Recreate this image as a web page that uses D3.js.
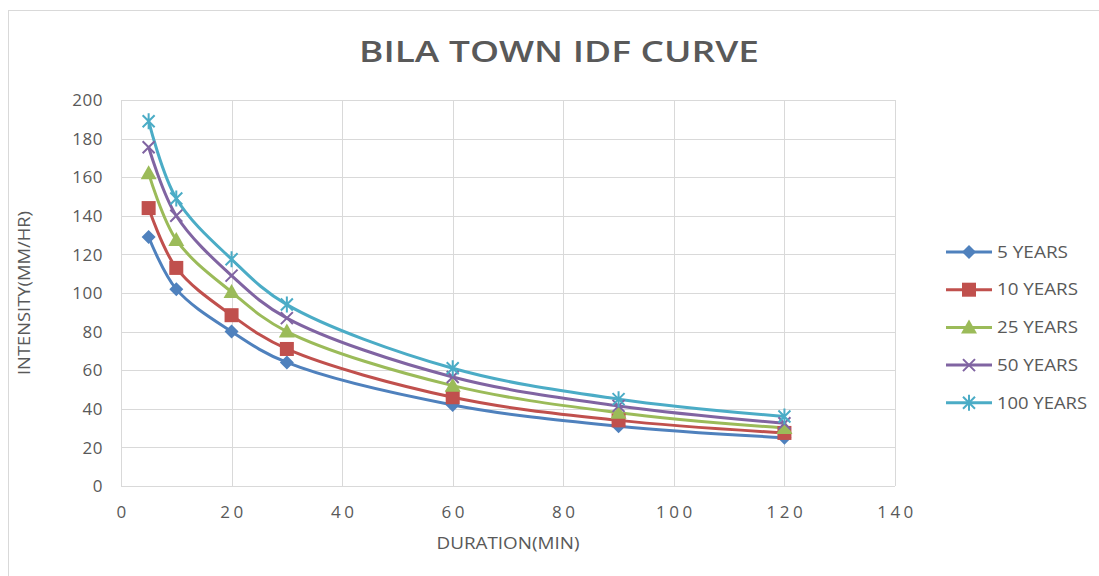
<!DOCTYPE html>
<html>
<head>
  <meta charset="UTF-8">
  <style>
    body { margin: 0; background: #fff; }
    svg { display: block; font-family: "Open Sans", "Liberation Sans", sans-serif; }
  </style>
</head>
<body>
<svg></svg>
<script src="https://d3js.org/d3.v7.min.js"></script>
<script>
let width = 1099, height = 576;
let svg = d3.select("svg").attr("width", width).attr("height", height);

// data
const durations = [5, 10, 20, 30, 60, 90, 120];
const seriesNames = ["5 YEARS", "10 YEARS", "25 YEARS", "50 YEARS", "100 YEARS"];
const years5 = [129, 102, 80, 64, 42, 31, 25];
const years10 = [144, 113, 88.5, 71, 46, 34, 27.5];
const years25 = [162, 127.5, 100.5, 80, 52, 38, 30];
const years50 = [175.5, 140, 109, 87, 56.5, 41.5, 32.5];
const years100 = [189, 149, 117.5, 94, 61, 45, 36];
const xTicks = [0, 20, 40, 60, 80, 100, 120, 140];
const yTicks = [0, 20, 40, 60, 80, 100, 120, 140, 160, 180, 200];

const allSeries = [years5, years10, years25, years50, years100];
const colors = ["#4F81BD", "#C0504D", "#9BBB59", "#8064A2", "#4BACC6"];
const markers = ["diamond", "square", "triangle", "x", "star"];

// chart frame
svg.append("rect").attr("x", 8.5).attr("y", 10.5).attr("width", 1100).attr("height", 580)
  .attr("fill", "#fff").attr("stroke", "#D9D9D9");

let x = d3.scaleLinear().domain([0, 140]).range([121, 895]);
let y = d3.scaleLinear().domain([0, 200]).range([486, 100]);

// gridlines
svg.append("g").selectAll("line").data(yTicks).enter().append("line")
  .attr("x1", x(0)).attr("x2", x(140))
  .attr("y1", d => Math.round(y(d)) + 0.5).attr("y2", d => Math.round(y(d)) + 0.5)
  .attr("stroke", "#D9D9D9");
svg.append("g").selectAll("line").data(xTicks).enter().append("line")
  .attr("y1", y(0)).attr("y2", y(200))
  .attr("x1", d => Math.round(x(d)) + 0.5).attr("x2", d => Math.round(x(d)) + 0.5)
  .attr("stroke", "#D9D9D9");

// tick labels
svg.append("g").selectAll("text").data(yTicks).enter().append("text")
  .attr("x", 103).attr("y", d => y(d)).attr("dy", "0.36em")
  .attr("text-anchor", "end").attr("fill", "#595959").style("font-size", "17px")
  .style("letter-spacing", "0.5px")
  .text(d => d);
svg.append("g").selectAll("text").data(xTicks).enter().append("text")
  .attr("x", d => x(d) + 2).attr("y", 518)
  .attr("text-anchor", "middle").attr("fill", "#595959").style("font-size", "17px")
  .style("letter-spacing", "3.5px")
  .text(d => d);

// titles
svg.append("text").attr("x", 559).attr("y", 62).attr("text-anchor", "middle")
  .attr("fill", "#595959").style("font-size", "29px").style("font-weight", "600")
  .attr("textLength", 400).attr("lengthAdjust", "spacingAndGlyphs")
  .text("BILA TOWN IDF CURVE");
svg.append("text").attr("x", 508).attr("y", 549).attr("text-anchor", "middle")
  .attr("fill", "#595959").style("font-size", "17px")
  .attr("textLength", 143).attr("lengthAdjust", "spacingAndGlyphs")
  .text("DURATION(MIN)");
svg.append("text").attr("transform", "translate(30,293) rotate(-90)").attr("text-anchor", "middle")
  .attr("fill", "#595959").style("font-size", "17px")
  .attr("textLength", 164).attr("lengthAdjust", "spacingAndGlyphs")
  .text("INTENSITY(MM/HR)");

function drawMarker(g, type, color) {
  if (type == "diamond") {
    g.append("path").attr("d", "M0,-7L7,0L0,7L-7,0Z").attr("fill", color);
  } else if (type == "square") {
    g.append("rect").attr("x", -7).attr("y", -7).attr("width", 14).attr("height", 14).attr("fill", color);
  } else if (type == "triangle") {
    g.append("path").attr("d", "M0,-8L8,6L-8,6Z").attr("fill", color);
  } else if (type == "x") {
    g.append("path").attr("d", "M-6,-6L6,6M-6,6L6,-6").attr("stroke", color).attr("stroke-width", 2).attr("fill", "none");
  } else {
    g.append("path").attr("d", "M-6,-6L6,6M-6,6L6,-6M0,-8L0,8").attr("stroke", color).attr("stroke-width", 2).attr("fill", "none");
  }
}

let line = d3.line().x(d => x(d[0])).y(d => y(d[1])).curve(d3.curveCatmullRom.alpha(0.5));

allSeries.forEach(function (vals, i) {
  let pts = durations.map((d, j) => [d, vals[j]]);
  svg.append("path").datum(pts).attr("d", line)
    .attr("fill", "none").attr("stroke", colors[i]).attr("stroke-width", 3);
});
allSeries.forEach(function (vals, i) {
  durations.forEach(function (d, j) {
    let g = svg.append("g").attr("transform", "translate(" + x(d) + "," + y(vals[j]) + ")");
    drawMarker(g, markers[i], colors[i]);
  });
});

// legend
const legendWidths = [71, 81, 81, 81, 90];
let legend = svg.append("g");
seriesNames.forEach(function (name, i) {
  let ly = 252 + i * 37.7;
  legend.append("line").attr("x1", 946).attr("x2", 992).attr("y1", ly).attr("y2", ly)
    .attr("stroke", colors[i]).attr("stroke-width", 3);
  let g = legend.append("g").attr("transform", "translate(969," + ly + ")");
  drawMarker(g, markers[i], colors[i]);
  legend.append("text").attr("x", 997).attr("y", ly).attr("dy", "0.36em")
    .attr("fill", "#595959").style("font-size", "16px")
    .attr("textLength", legendWidths[i]).attr("lengthAdjust", "spacingAndGlyphs")
    .text(name);
});
</script>
</body>
</html>
